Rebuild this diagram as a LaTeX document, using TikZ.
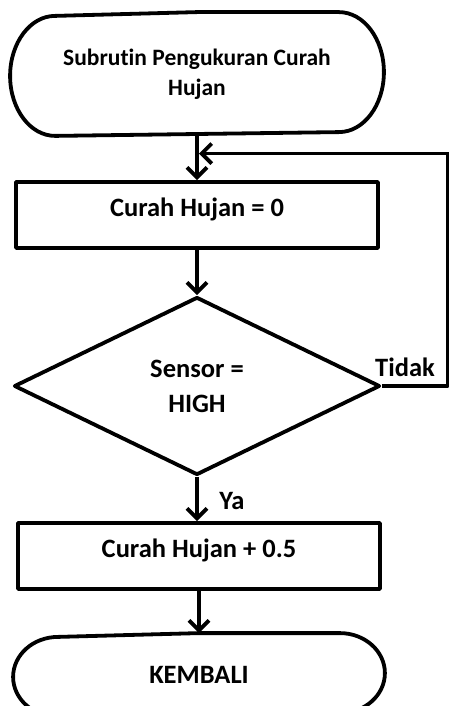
\documentclass[tikz,border=0pt]{standalone}
\usepackage{fontspec}
\setmainfont{Carlito}[Ligatures=NoCommon]
\usetikzlibrary{arrows.meta,shapes.geometric,calc}
\tikzset{
  base/.style={inner sep=0pt, font=\bfseries\fontsize{26.5}{35}\selectfont, text=black},
  termbox/.style={base, draw=none},
  procbox/.style={base, draw, rectangle, minimum width=362pt, minimum height=66pt},
  decbox/.style={base, draw, diamond, minimum width=366pt, minimum height=178pt, align=center},
  flow/.style={-{Straight Barb[length=10pt,width=20pt]}},
  lbl/.style={base, inner sep=0pt}
}
\begin{document}
\begin{tikzpicture}[x=1pt,y=-1pt,line width=3.8pt,line join=round]
\useasboundingbox (0,0) rectangle (449,706);
\fill[white] (0,0) rectangle (449,706);

\node[termbox, minimum width=370pt, minimum height=120pt, align=center,
      font=\bfseries\fontsize{23.5}{30}\selectfont] (start) at (197,74)
      {Subrutin Pengukuran Curah\\Hujan};
\draw (start.north) -- ([xshift=-45pt]start.north east)
      arc[start angle=90,end angle=-90,x radius=45pt,y radius=60pt]
      -- ([xshift=45pt]start.south west)
      arc[start angle=270,end angle=90,x radius=45pt,y radius=60pt] -- cycle;

\node[procbox, label={[lbl,yshift=6pt]center:Curah Hujan = 0}] (r1) at (197,215) {};
\node[decbox] (dec) at (197,386) {Sensor =\\HIGH};
\node[procbox, label={[lbl,yshift=6pt]center:Curah Hujan + 0.5}] (r2) at (199,556) {};

\node[termbox, minimum width=368pt, minimum height=80pt] (stop) at (199,675) {KEMBALI};
\draw (stop.north) -- ([xshift=-45pt]stop.north east)
      arc[start angle=90,end angle=-90,x radius=45pt,y radius=40pt]
      -- ([xshift=45pt]stop.south west)
      arc[start angle=270,end angle=90,x radius=45pt,y radius=40pt] -- cycle;

\coordinate (join) at ($(start.south)!0.4!(r1.north)$);
\draw[flow] (start.south) -- (r1.north);
\draw[flow] (r1.south) -- (dec.north);
\draw[flow] (dec.south) -- (dec.south|-r2.north);
\draw[flow] (r2.south) -- (stop.north);
\draw[flow, shorten >=2pt] (dec.east) -- ++(66,0) |- (join);

\node[lbl] (tidak) at (405,367) {Tidak};
\node[lbl] (ya) at (232,501) {Ya};
\end{tikzpicture}
\end{document}
